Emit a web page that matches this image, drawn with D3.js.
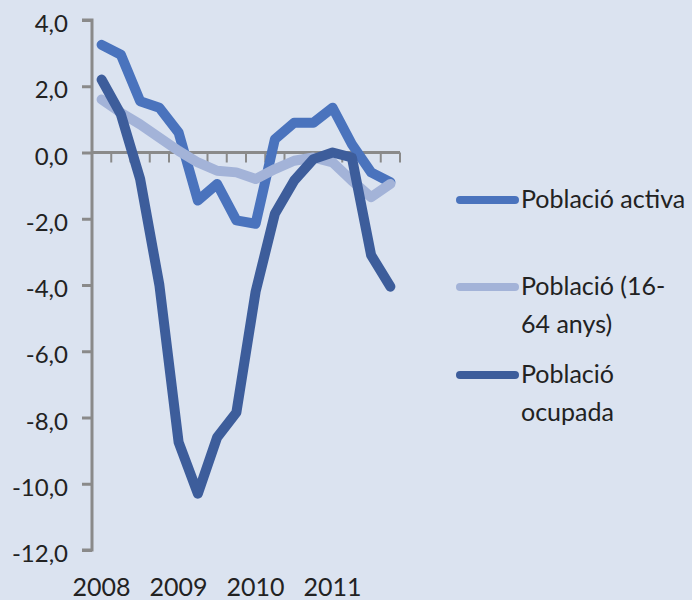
<!DOCTYPE html>
<html>
<head>
<meta charset="utf-8">
<script src="https://cdn.jsdelivr.net/npm/d3@7"></script>
<style>
  body { margin: 0; background: #dbe3f0; }
  svg { display: block; }
  text { font-family: Lato, "Open Sans", sans-serif; fill: #222; }
</style>
</head>
<body>
<div id="chart"></div>
<script>
// quarters 2008 T1 .. 2011 T4
const quarters = d3.range(16).map(i => `${2008 + Math.floor(i / 4)}T${i % 4 + 1}`);
const yearLabels = ["2008", "2009", "2010", "2011"];
const yTicks = [4, 2, 0, -2, -4, -6, -8, -10, -12];

const activa  = [3.25, 2.95, 1.55, 1.35, 0.6, -1.45, -0.95, -2.05, -2.15, 0.4, 0.9, 0.9, 1.35, 0.25, -0.6, -0.9];
const pob1664 = [1.6, 1.2, 0.85, 0.45, 0.05, -0.3, -0.55, -0.6, -0.8, -0.5, -0.25, -0.15, -0.3, -0.85, -1.35, -0.95];
const ocupada = [2.2, 1.15, -0.8, -4.0, -8.75, -10.3, -8.6, -7.85, -4.2, -1.85, -0.85, -0.2, 0.0, -0.15, -3.1, -4.05];

const series = [
    { name: ["Població activa"], values: activa, color: "#4a73bd" },
    { name: ["Població (16-", "64 anys)"], values: pob1664, color: "#a3b3d8" },
    { name: ["Població", "ocupada"], values: ocupada, color: "#3d5d9b" }
];

const width = 692, height = 600;
const plot = { left: 92, right: 400, top: 20, bottom: 550 };

const svg = d3.select("#chart").append("svg")
    .attr("width", width)
    .attr("height", height);

const x = d3.scaleBand().domain(quarters).range([plot.left, plot.right]);
const y = d3.scaleLinear().domain([-12, 4]).range([plot.bottom, plot.top]);

const axisColor = "#8a8a8a";

// y axis (comma decimals, plain hyphen for minus)
const yAxis = svg.append("g")
    .attr("transform", `translate(${plot.left},0)`)
    .call(d3.axisLeft(y).tickValues(yTicks).tickSize(10).tickPadding(14)
        .tickFormat(d => d.toFixed(1).replace(".", ",")));
yAxis.select(".domain").attr("stroke", axisColor).attr("stroke-width", 3)
    .attr("d", `M-10,${y(4)}H0V${y(-12)}H-10`);
yAxis.selectAll(".tick line").attr("stroke", axisColor).attr("stroke-width", 3);
yAxis.selectAll(".tick text")
    .style("font-size", "24px")
    .attr("fill", "#222")
    .attr("dy", "0.48em");

// x axis along zero
const xAxis = svg.append("g")
    .attr("transform", `translate(0,${y(0)})`);
xAxis.append("line")
    .attr("x1", plot.left).attr("x2", plot.right)
    .attr("stroke", axisColor).attr("stroke-width", 3);
xAxis.selectAll(".xt")
    .data(d3.range(17))
    .enter().append("line")
    .attr("x1", i => plot.left + i * x.step())
    .attr("x2", i => plot.left + i * x.step())
    .attr("y1", 0).attr("y2", 10)
    .attr("stroke", axisColor).attr("stroke-width", 2);

// year labels, under Q1 of each year
svg.selectAll(".year")
    .data(yearLabels)
    .enter().append("text")
    .attr("x", (d, i) => x(quarters[i * 4]) + x.bandwidth() / 2)
    .attr("y", 596)
    .attr("text-anchor", "middle")
    .style("font-size", "25px")
    .text(d => d);

// lines
const line = d3.line()
    .x((d, i) => x(quarters[i]) + x.bandwidth() / 2)
    .y(d => y(d));

svg.selectAll(".series")
    .data(series)
    .enter().append("path")
    .attr("d", d => line(d.values))
    .attr("fill", "none")
    .attr("stroke", d => d.color)
    .attr("stroke-width", 10)
    .attr("stroke-linejoin", "round")
    .attr("stroke-linecap", "round");

// legend
const legendY = [200, 287, 375];
const legend = svg.selectAll(".legend")
    .data(series)
    .enter().append("g")
    .attr("transform", (d, i) => `translate(0,${legendY[i]})`);

legend.append("line")
    .attr("x1", 460).attr("x2", 515)
    .attr("stroke", d => d.color)
    .attr("stroke-width", 8)
    .attr("stroke-linecap", "round");

legend.each(function (d) {
    const t = d3.select(this).append("text")
        .attr("x", 521)
        .attr("y", 8)
        .style("font-size", "25px");
    d.name.forEach((s, k) => {
        t.append("tspan").attr("x", 521).attr("dy", k === 0 ? 0 : 38).text(s);
    });
});
</script>
</body>
</html>
